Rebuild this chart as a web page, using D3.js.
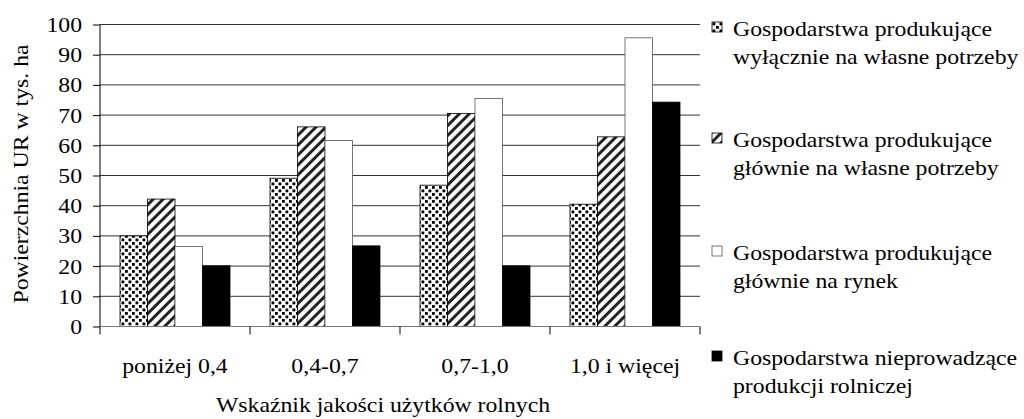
<!DOCTYPE html>
<html>
<head>
<meta charset="utf-8">
<script src="https://cdn.jsdelivr.net/npm/d3@7/dist/d3.min.js"></script>
<style>
  body { margin: 0; background: #fff; }
  text { font-family: "Liberation Serif", "DejaVu Serif", serif; fill: #000; }
</style>
</head>
<body>
<svg width="1024" height="419"></svg>
<script>
const categories = ['poniżej 0,4', '0,4-0,7', '0,7-1,0', '1,0 i więcej'];
const seriesNames = [
  ['Gospodarstwa produkujące', 'wyłącznie na własne potrzeby'],
  ['Gospodarstwa produkujące', 'głównie na własne potrzeby'],
  ['Gospodarstwa produkujące', 'głównie na rynek'],
  ['Gospodarstwa nieprowadzące', 'produkcji rolniczej']
];
const wylacznieWlasne = [30.0, 49.1, 46.8, 40.5];
const glownieWlasne = [42.2, 66.1, 70.5, 62.8];
const glownieRynek = [26.5, 61.6, 75.5, 95.6];
const nieprowadzace = [20.1, 26.7, 20.1, 74.3];
const yTicks = [0, 10, 20, 30, 40, 50, 60, 70, 80, 90, 100];

const series = [wylacznieWlasne, glownieWlasne, glownieRynek, nieprowadzace];
const fills = ['url(#dots)', 'url(#hatch)', '#fff', '#000'];
const strokes = ['#000', '#000', '#555', '#000'];

const LEFT = 100, RIGHT = 700, TOP = 24.5, BOTTOM = 326.5;
const FS = 22, SX = 1.08; // text is a bit wider than it is tall in the original

const svg = d3.select('svg');

// patterns
const defs = svg.append('defs');
const dots = defs.append('pattern').attr('id', 'dots')
  .attr('patternUnits', 'userSpaceOnUse').attr('width', 7).attr('height', 7);
dots.append('rect').attr('width', 7).attr('height', 7).attr('fill', '#fff');
dots.append('rect').attr('x', 0.5).attr('y', 0.5).attr('width', 2.8).attr('height', 2.8).attr('fill', '#000');
dots.append('rect').attr('x', 4).attr('y', 4).attr('width', 2.8).attr('height', 2.8).attr('fill', '#000');

const hatch = defs.append('pattern').attr('id', 'hatch')
  .attr('patternUnits', 'userSpaceOnUse').attr('width', 7).attr('height', 7)
  .attr('patternTransform', 'rotate(45)');
hatch.append('rect').attr('width', 7).attr('height', 7).attr('fill', '#fff');
hatch.append('line').attr('x1', 3.5).attr('x2', 3.5).attr('y1', 0).attr('y2', 7)
  .attr('stroke', '#222').attr('stroke-width', 3);

const x0 = d3.scaleBand().domain(categories).range([LEFT, RIGHT]);
const x1 = d3.scaleBand().domain(d3.range(series.length)).range([20, 130]);
const y = d3.scaleLinear().domain([0, 100]).range([BOTTOM, TOP]);

// gridlines
svg.append('g')
  .selectAll('line')
  .data(yTicks.filter(t => t > 0))
  .enter()
  .append('line')
  .attr('x1', LEFT).attr('x2', RIGHT)
  .attr('y1', d => y(d)).attr('y2', d => y(d))
  .attr('stroke', '#333').attr('stroke-width', 1);

// bars
const groups = svg.append('g')
  .selectAll('g')
  .data(categories)
  .enter()
  .append('g')
  .attr('transform', c => `translate(${x0(c)},0)`);

groups.selectAll('rect')
  .data((c, i) => series.map((s, k) => ({ k, v: s[i] })))
  .enter()
  .append('rect')
  .attr('x', d => x1(d.k))
  .attr('y', d => y(d.v))
  .attr('width', x1.bandwidth())
  .attr('height', d => y(0) - y(d.v))
  .attr('fill', d => fills[d.k])
  .attr('stroke', d => strokes[d.k])
  .attr('stroke-width', 0.8);

// y axis
const yAxis = svg.append('g')
  .attr('transform', `translate(${LEFT},0)`)
  .call(d3.axisLeft(y).tickValues(yTicks).tickSize(7).tickPadding(11));
yAxis.select('.domain').attr('d', `M0,${TOP}V${BOTTOM}`).attr('stroke', '#000');
yAxis.selectAll('text')
  .attr('font-size', FS)
  .attr('transform', `translate(-18,0) scale(${SX},1)`)
  .attr('x', 0);

// x axis
const xAxis = svg.append('g')
  .attr('transform', `translate(0,${BOTTOM})`)
  .call(d3.axisBottom(x0).tickSize(0));
xAxis.select('.domain').remove();
xAxis.selectAll('text')
  .attr('font-size', FS)
  .attr('y', 0).attr('dy', 0)
  .attr('transform', `translate(0,46) scale(${SX},1)`);
svg.append('line').attr('x1', LEFT).attr('x2', RIGHT).attr('y1', BOTTOM).attr('y2', BOTTOM)
  .attr('stroke', '#777').attr('stroke-width', 1.2);
svg.append('g')
  .selectAll('line')
  .data(categories.slice(1).concat(['end']))
  .enter()
  .append('line')
  .attr('x1', c => c === 'end' ? RIGHT : x0(c))
  .attr('x2', c => c === 'end' ? RIGHT : x0(c))
  .attr('y1', BOTTOM).attr('y2', BOTTOM + 8)
  .attr('stroke', '#000');
svg.append('line').attr('x1', LEFT).attr('x2', LEFT).attr('y1', BOTTOM).attr('y2', BOTTOM + 8).attr('stroke', '#000');

// axis titles
svg.append('text')
  .attr('transform', `translate(28,174) rotate(-90) scale(${SX},1)`)
  .attr('text-anchor', 'middle')
  .attr('font-size', FS)
  .text('Powierzchnia UR w tys. ha');
svg.append('text')
  .attr('transform', `translate(383,412) scale(${SX},1)`)
  .attr('text-anchor', 'middle')
  .attr('font-size', FS)
  .text('Wskaźnik jakości użytków rolnych');

// legend
const legendY = [36, 147, 260, 365];
const legend = svg.append('g')
  .selectAll('g')
  .data(seriesNames)
  .enter()
  .append('g')
  .attr('transform', (d, i) => `translate(712,${legendY[i]})`);
legend.append('rect')
  .attr('x', 0).attr('y', -14).attr('width', 10).attr('height', 10)
  .attr('fill', (d, i) => fills[i])
  .attr('stroke', (d, i) => strokes[i]).attr('stroke-width', 0.8);
legend.append('text')
  .attr('transform', `translate(21,0) scale(${SX},1)`)
  .attr('font-size', FS)
  .selectAll('tspan')
  .data(d => d)
  .enter()
  .append('tspan')
  .attr('x', 0)
  .attr('dy', (d, j) => j === 0 ? 0 : 28)
  .text(d => d);
</script>
</body>
</html>
